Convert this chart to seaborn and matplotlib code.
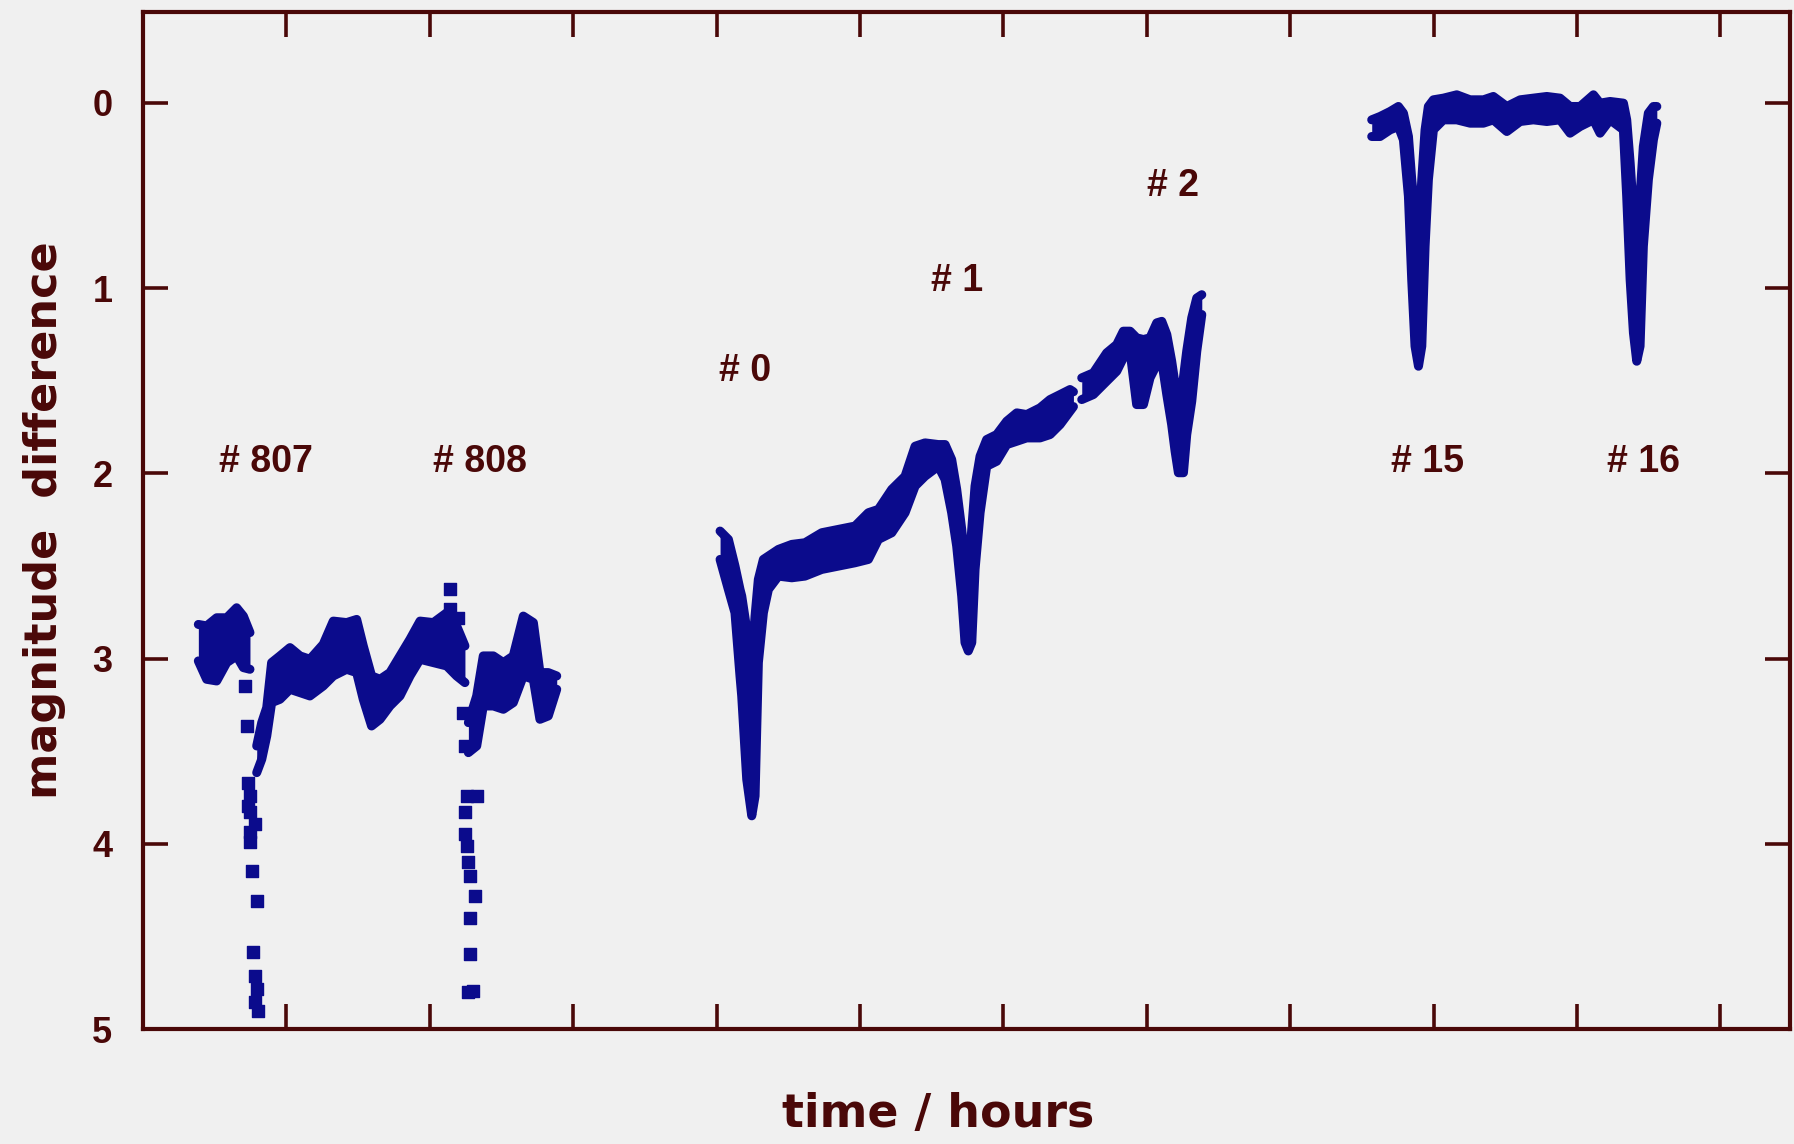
import numpy as np
import pandas as pd
import seaborn as sns
import matplotlib.pyplot as plt

# ---------------- data ----------------
# Envelope (top = brighter / smaller magnitude, bot = fainter) of the dense light-curve band
segA1_x   = [0.386, 0.444, 0.514, 0.584, 0.653, 0.700, 0.746]
segA1_top = [2.816, 2.824, 2.780, 2.780, 2.726, 2.771, 2.860]
segA1_bot = [3.013, 3.112, 3.121, 3.022, 2.986, 3.049, 3.058]

segA2_x   = [0.793, 0.828, 0.863, 0.897, 0.955, 1.025, 1.095, 1.164, 1.257, 1.327, 1.420,
             1.490, 1.536, 1.594, 1.653, 1.722, 1.792, 1.862, 1.932, 2.025, 2.118, 2.187, 2.245]
segA2_top = [3.472, 3.346, 3.265, 3.022, 2.986, 2.941, 2.986, 3.004, 2.923, 2.798, 2.806,
             2.789, 2.932, 3.094, 3.112, 3.076, 2.986, 2.896, 2.798, 2.806, 2.753, 2.824, 2.932]
segA2_bot = [3.616, 3.544, 3.418, 3.238, 3.220, 3.166, 3.184, 3.202, 3.148, 3.094, 3.058,
             3.076, 3.220, 3.364, 3.328, 3.256, 3.202, 3.094, 3.004, 3.022, 3.040, 3.094, 3.130]

segA3_x   = [2.269, 2.327, 2.373, 2.443, 2.513, 2.582, 2.652, 2.722, 2.768, 2.826, 2.885]
segA3_top = [3.346, 3.202, 2.986, 2.986, 3.022, 2.986, 2.771, 2.806, 3.076, 3.076, 3.094]
segA3_bot = [3.508, 3.472, 3.256, 3.256, 3.274, 3.238, 3.094, 3.112, 3.328, 3.310, 3.166]

segB_x   = [4.024, 4.082, 4.128, 4.163, 4.175, 4.210, 4.245, 4.268, 4.291, 4.326, 4.361,
            4.431, 4.524, 4.616, 4.733, 4.849, 4.965, 5.058, 5.128, 5.221, 5.314, 5.384,
            5.453, 5.546, 5.593, 5.639, 5.674, 5.709, 5.732, 5.755, 5.779, 5.802, 5.837,
            5.883, 5.953, 6.023, 6.093, 6.162, 6.255, 6.325, 6.395, 6.464, 6.488]
segB_top = [2.312, 2.357, 2.501, 2.627, 2.663, 2.843, 3.022, 2.771, 2.573, 2.465, 2.447,
            2.411, 2.384, 2.375, 2.321, 2.303, 2.285, 2.213, 2.195, 2.087, 2.016, 1.854,
            1.836, 1.845, 1.845, 1.926, 2.087, 2.303, 2.483, 2.573, 2.303, 2.069, 1.908,
            1.818, 1.791, 1.719, 1.674, 1.683, 1.647, 1.602, 1.575, 1.548, 1.560]
segB_bot = [2.465, 2.627, 2.753, 3.094, 3.202, 3.652, 3.849, 3.742, 3.022, 2.753, 2.627,
            2.555, 2.564, 2.555, 2.519, 2.501, 2.483, 2.465, 2.357, 2.321, 2.213, 2.069,
            2.016, 1.962, 2.033, 2.213, 2.393, 2.663, 2.914, 2.959, 2.914, 2.519, 2.213,
            1.962, 1.935, 1.845, 1.827, 1.809, 1.809, 1.791, 1.737, 1.665, 1.640]

segC_x   = [6.546, 6.627, 6.720, 6.790, 6.836, 6.883, 6.929, 6.976, 7.022, 7.069, 7.104,
            7.139, 7.173, 7.197, 7.220, 7.255, 7.278, 7.313, 7.348, 7.383]
segC_top = [1.485, 1.458, 1.350, 1.305, 1.233, 1.233, 1.269, 1.278, 1.269, 1.188, 1.180,
            1.251, 1.395, 1.521, 1.665, 1.485, 1.341, 1.161, 1.054, 1.036]
segC_bot = [1.602, 1.575, 1.503, 1.449, 1.377, 1.341, 1.629, 1.629, 1.485, 1.413, 1.395,
            1.575, 1.737, 1.881, 1.997, 1.997, 1.791, 1.611, 1.341, 1.143]

segD_x   = [8.568, 8.626, 8.696, 8.754, 8.789, 8.824, 8.847, 8.870, 8.894, 8.917, 8.940,
            8.963, 8.998, 9.068, 9.161, 9.254, 9.347, 9.416, 9.510, 9.603, 9.695, 9.789,
            9.881, 9.951, 10.021, 10.114, 10.160, 10.230, 10.323, 10.346, 10.370, 10.393,
            10.416, 10.439, 10.462, 10.497, 10.532, 10.556]
segD_top = [0.092, 0.074, 0.047, 0.020, 0.056, 0.182, 0.415, 0.595, 0.775, 0.415, 0.146,
            0.020, -0.016, -0.025, -0.043, -0.016, -0.016, -0.034, 0.020, -0.016, -0.025, -0.034,
            -0.025, 0.020, 0.020, -0.043, 0.002, -0.007, 0.002, 0.092, 0.325, 0.595,
            0.775, 0.505, 0.236, 0.056, 0.020, 0.020]
segD_bot = [0.182, 0.182, 0.146, 0.128, 0.200, 0.505, 0.955, 1.314, 1.422, 1.314, 0.775,
            0.415, 0.146, 0.092, 0.092, 0.110, 0.110, 0.092, 0.155, 0.101, 0.092, 0.101,
            0.092, 0.164, 0.128, 0.092, 0.164, 0.092, 0.146, 0.505, 0.955, 1.242,
            1.395, 1.314, 0.775, 0.415, 0.200, 0.110]

# isolated measurements in the dips #807 and #808
iso_x = [0.711, 0.723, 0.734, 0.746, 0.746, 0.781, 0.746, 0.758, 0.793, 0.769, 0.781,
         0.793, 0.781, 0.804, 0.734, 0.746,
         2.234, 2.245, 2.257, 2.327, 2.245, 2.245, 2.257, 2.269, 2.280, 2.315, 2.280,
         2.280, 2.304, 2.269, 2.141, 2.141, 2.199]
iso_y = [3.148, 3.364, 3.670, 3.742, 3.831, 3.894, 3.993, 4.146, 4.308, 4.586, 4.712,
         4.784, 4.856, 4.901, 3.796, 3.939,
         3.292, 3.472, 3.742, 3.742, 3.831, 3.948, 4.011, 4.101, 4.173, 4.281, 4.398,
         4.596, 4.793, 4.802, 2.627, 2.735, 2.780]

cycle_labels = ["# 807", "# 808", "# 0", "# 1", "# 2", "# 15", "# 16"]
cycle_x      = [0.86, 2.35, 4.20, 5.68, 7.18, 8.96, 10.46]
cycle_y      = [1.94, 1.94, 1.45, 0.96, 0.45, 1.94, 1.94]

y_ticks = [0, 1, 2, 3, 4, 5]
x_ticks = [1, 2, 3, 4, 5, 6, 7, 8, 9, 10, 11]

# ---------------- style ----------------
MAROON = '#4a0808'
BLUE = '#0b0b8c'
BG = '#f0f0f0'

sns.set_theme(style='white')
plt.rcParams['font.family'] = ['Liberation Sans', 'DejaVu Sans']

fig = plt.figure(figsize=(17.94, 11.44), dpi=100, facecolor=BG)
ax = fig.add_axes([0.0797, 0.1005, 0.9181, 0.889])
ax.set_facecolor(BG)

segments = [
    (segA1_x, segA1_top, segA1_bot),
    (segA2_x, segA2_top, segA2_bot),
    (segA3_x, segA3_top, segA3_bot),
    (segB_x, segB_top, segB_bot),
    (segC_x, segC_top, segC_bot),
    (segD_x, segD_top, segD_bot),
]
for sx, st, sb in segments:
    df = pd.DataFrame({'x': sx, 'top': st, 'bot': sb})
    ax.fill_between(df['x'], df['top'], df['bot'], color=BLUE, lw=0, zorder=3)
    sns.lineplot(data=df, x='x', y='top', ax=ax, color=BLUE, lw=6.5, sort=False,
                 zorder=3, solid_capstyle='round', solid_joinstyle='round')
    sns.lineplot(data=df, x='x', y='bot', ax=ax, color=BLUE, lw=6.5, sort=False,
                 zorder=3, solid_capstyle='round', solid_joinstyle='round')

sns.scatterplot(x=iso_x, y=iso_y, ax=ax, marker='s', s=75, color=BLUE,
                edgecolor=BLUE, linewidth=1.0, zorder=4)

for t, xx, yy in zip(cycle_labels, cycle_x, cycle_y):
    ax.text(xx, yy, t, ha='center', va='center', fontsize=27, fontweight='bold',
            color=MAROON, family=['Liberation Sans', 'DejaVu Sans'])

ax.set_xlim(0, 11.485)
ax.set_ylim(5, -0.49)
ax.set_xticks(x_ticks)
ax.set_xticklabels([])
ax.set_yticks(y_ticks)
ax.set_yticklabels([str(v) for v in y_ticks], fontsize=26, fontweight='bold', color=MAROON)

ax.tick_params(axis='both', which='major', direction='in', length=18, width=2.6,
               color=MAROON, top=True, right=True, bottom=True, left=True)
ax.tick_params(axis='y', pad=22)

for sp in ax.spines.values():
    sp.set_color(MAROON)
    sp.set_linewidth(3)
    sp.set_visible(True)

ax.set_xlabel('time / hours', fontsize=33, fontweight='bold', color=MAROON,
              family=['DejaVu Sans'])
ax.set_ylabel('magnitude  difference', fontsize=32, fontweight='bold', color=MAROON,
              family=['DejaVu Sans'])
ax.xaxis.set_label_coords(0.483, -0.062)
ax.yaxis.set_label_coords(-0.047, 0.5)
ax.grid(False)

fig.savefig('out.png', dpi=100, facecolor=BG)
